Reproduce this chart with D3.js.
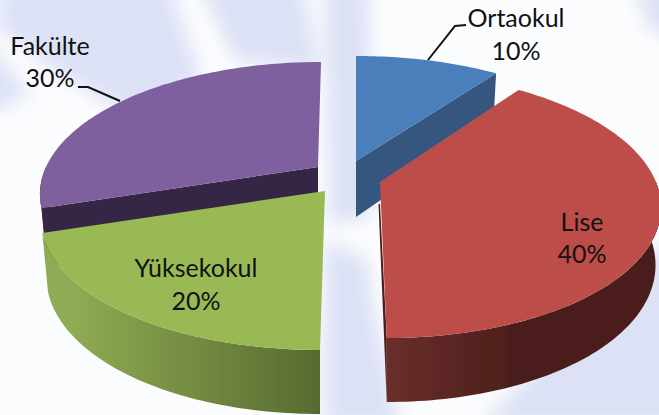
<!DOCTYPE html>
<html><head><meta charset="utf-8">
<script src="https://cdn.jsdelivr.net/npm/d3@7"></script>
<style>html,body{margin:0;padding:0;background:#fff}svg{display:block}text{font-family:Lato,"Open Sans",sans-serif;font-size:25px;fill:#111;text-anchor:middle}</style>
</head><body><svg id="c" width="659" height="415"></svg>
<script>
const categories = ["Ortaokul","Lise","Yüksekokul","Fakülte"];
const values = [10,40,20,30];
const percentLabels = ["10%","40%","20%","30%"];

// Layout (not data)
const W=659,H=415, baseDrop=56, dropSlope=8, shrink=0.98;
const geom=[
 {ax:356,ay:161,rx:276,ry:125.5,k:0.195,lean:0,top:"#4b7fbc",side:["#36587f","#36587f"],cut:"end",cutFill:"#35577f"},
 {ax:380,ay:182,rx:276,ry:129.5,k:0.17,lean:-5.6,top:"#bd4e4a",side:["#6a2e2b","#4b1e1b"],cut:"end",cutFill:"#4f1f1d",thin:true},
 {ax:325,ay:191,rx:278,ry:128,k:0.195,lean:4,top:"#99b955",side:["#8fab52","#586a30"]},
 {ax:318,ay:167,rx:272,ry:125.5,k:0.195,lean:3.6,top:"#7e609e",side:["#3a2b4a","#3a2b4a"],cut:"start",cutFill:"#352845"}
];
const labelPos=[{x:516,y1:27,y2:60},{x:582,y1:231,y2:263},{x:196,y1:277,y2:310},{x:50,y1:55,y2:87}];
const leaders=[[[466,25],[455,26],[428,60]],[],[],[[78,87],[88,87],[120,101]]];
const streaks=[
 [[5,-25],[165,-25],[200,75],[150,125],[60,75],[-5,25]],
 [[195,-25],[300,-25],[320,70],[235,60]],
 [[325,-25],[368,-25],[372,215],[330,225]],
 [[325,240],[368,260],[372,300],[400,425],[325,425]],
 [[480,425],[560,345],[600,300],[670,240],[690,425]],
 [[-20,35],[30,95],[-20,115]],
 [[630,-25],[690,-25],[690,40],[650,30]]
];

const svg=d3.select("#c");
const defs=svg.append("defs");
defs.append("filter").attr("id","soft").attr("x","-30%").attr("y","-30%").attr("width","160%").attr("height","160%")
  .append("feGaussianBlur").attr("stdDeviation",9);
defs.append("filter").attr("id","edge").append("feGaussianBlur").attr("stdDeviation",0.45);

svg.append("rect").attr("width",W).attr("height",H).attr("fill","#fbfcfe");
svg.append("g").attr("filter","url(#soft)").selectAll("path").data(streaks).join("path")
  .attr("d",d=>d3.line()(d)+"Z").attr("fill","#dce1f5");

const arcs=d3.pie().sort(null).value(d=>d)(values);
const line=d3.line();
function proj(g,a,bottom){
  const u=Math.sin(a),v=Math.cos(a),w=1+g.k*v;
  const s=bottom?shrink:1;
  const x=g.ax+(s*g.rx*u+g.lean*v)/w;
  const y=g.ay-g.ry*v/w+(bottom?baseDrop-dropSlope*v:0);
  return [x,y];
}
function rim(g,a0,a1,bottom){
  const n=Math.max(2,Math.ceil((a1-a0)/0.02));
  return d3.range(n+1).map(i=>proj(g,a0+(a1-a0)*i/n,bottom));
}
const root=svg.append("g").attr("filter","url(#edge)");
const order=[3,0,1,2];
order.forEach(i=>{
  const g=geom[i],A=arcs[i],gr=root.append("g");
  const a0=A.startAngle,a1=A.endAngle;
  const apexT=[g.ax,g.ay],apexB=[g.ax,g.ay+baseDrop];
  const f0=Math.max(a0,Math.PI/2),f1=Math.min(a1,3*Math.PI/2);
  if(f1>f0){
    const id="sideGrad"+i;
    const t=rim(g,f0,f1,false),b=rim(g,f0,f1,true).reverse();
    const xs=t.map(p=>p[0]);
    const lg=defs.append("linearGradient").attr("id",id).attr("gradientUnits","userSpaceOnUse")
      .attr("x1",i==1?d3.min(xs):d3.min(xs)+30).attr("x2",i==1?d3.min(xs)+130:d3.max(xs)).attr("y1",0).attr("y2",0);
    lg.append("stop").attr("offset",0).attr("stop-color",g.side[0]);
    lg.append("stop").attr("offset",1).attr("stop-color",g.side[1]);
    gr.append("path").attr("d",line(t.concat(b))+"Z").attr("fill",`url(#${id})`);
  }
  if(g.cut){
    const a=g.cut==="start"?a0:a1;
    const pts=g.thin?[apexT,proj(g,a,false),proj(g,a,true)]:[apexT,proj(g,a,false),proj(g,a,true),apexB];
    if(g.thin) pts[0]=[g.ax-1.5,g.ay+22];
    if(g.thin) pts.splice(1,0,[g.ax,g.ay+22]);
    gr.append("path").attr("d",line(pts)+"Z").attr("fill",g.cutFill);
  }
  gr.append("path").attr("d",line([apexT].concat(rim(g,a0,a1,false)))+"Z").attr("fill",g.top);
});

leaders.forEach(l=>{ if(l.length) svg.append("path").attr("d",line(l)).attr("fill","none").attr("stroke","#111").attr("stroke-width",2); });

const lab=svg.append("g");
categories.forEach((c,i)=>{
  lab.append("text").attr("x",labelPos[i].x).attr("y",labelPos[i].y1).text(c);
  lab.append("text").attr("x",labelPos[i].x).attr("y",labelPos[i].y2).text(percentLabels[i]);
});
</script></body></html>
